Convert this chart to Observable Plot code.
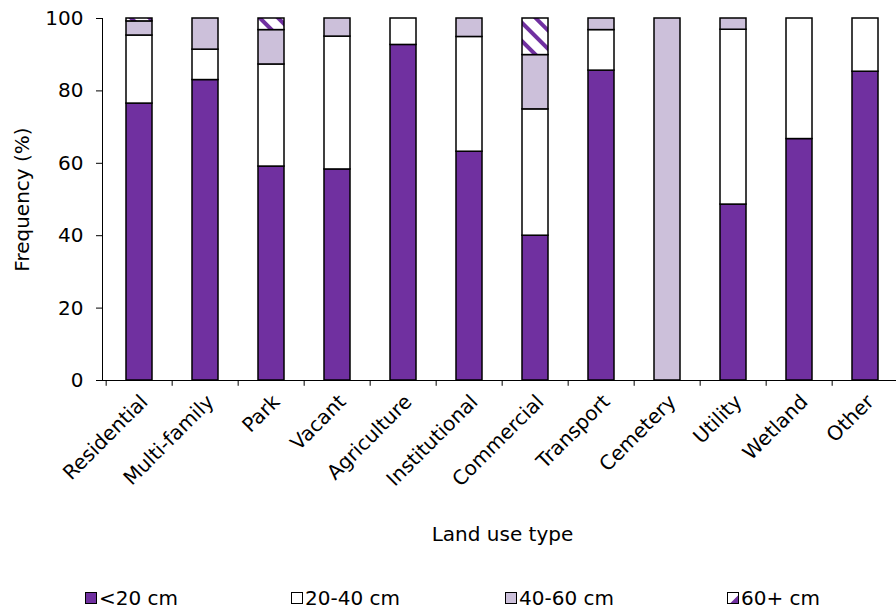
<!DOCTYPE html>
<html>
<head>
<meta charset="utf-8">
<script src="https://cdn.jsdelivr.net/npm/d3@7"></script>
<script src="https://cdn.jsdelivr.net/npm/@observablehq/plot@0.6"></script>
<style>
  html, body { margin: 0; padding: 0; background: #fff; }
  #wrap { position: relative; width: 896px; height: 615px; overflow: hidden; font-family: "DejaVu Sans", Verdana, sans-serif; }
  .leg { position: absolute; top: 585px; height: 26px; font-size: 20px; color: #000; display: flex; align-items: center; white-space: nowrap; }
  .leg svg { margin-right: 2px; }
</style>
</head>
<body>
<div id="wrap"></div>
<script>
const categories = ["Residential", "Multi-family", "Park", "Vacant", "Agriculture", "Institutional", "Commercial", "Transport", "Cemetery", "Utility", "Wetland", "Other"];
const seriesNames = ["<20 cm", "20-40 cm", "40-60 cm", "60+ cm"];
const lt20   = [76.5, 83.0, 59.1, 58.3, 92.7, 63.2, 40.0, 85.6, 0,   48.6, 66.7, 85.3];
const d20_40 = [18.8,  8.4, 28.2, 36.7,  7.3, 31.7, 34.9, 11.2, 0,   48.3, 33.3, 14.7];
const d40_60 = [ 3.9,  8.6,  9.5,  5.0,  0,    5.1, 15.0,  3.2, 100,  3.1,  0,    0];
const d60    = [ 0.8,  0,    3.2,  0,    0,    0,   10.1,  0,   0,    0,    0,    0];
const yTicks = [0, 20, 40, 60, 80, 100];
const fills = ["#7030A0", "#FFFFFF", "#CCC0DA", "url(#hatch60)"];

const seriesValues = [lt20, d20_40, d40_60, d60];
const rows = [];
seriesNames.forEach((s, si) => {
  categories.forEach((c, ci) => {
    const v = seriesValues[si][ci];
    if (v > 0) rows.push({category: c, series: s, value: v});
  });
});

const W = 896, H = 575, ML = 102, MR = -6, MT = 18, MB = 195;
const step = (W - MR - ML) / categories.length;

const chart = Plot.plot({
  width: W, height: H,
  marginTop: MT, marginLeft: ML, marginRight: MR, marginBottom: MB,
  style: {fontFamily: "DejaVu Sans, Verdana, sans-serif", fontSize: "20px", color: "#000", background: "white", overflow: "visible"},
  x: {domain: categories, paddingInner: 0.6, paddingOuter: 0.3, label: null},
  y: {domain: [0, 100], label: null},
  color: {domain: seriesNames, range: fills},
  marks: [
    Plot.barY(rows, {x: "category", y: "value", fill: "series", stroke: "black", strokeWidth: 1.5}),
    Plot.frame({anchor: "left", stroke: "black"}),
    Plot.frame({anchor: "bottom", stroke: "black"}),
    Plot.ruleX(categories, {x: d => d, y1: 0, y2: -1.6, dx: -step / 2, stroke: "black"}),
    Plot.axisY({ticks: yTicks, tickSize: 6, tickPadding: 13, fontSize: 20, label: null}),
    Plot.axisX({tickSize: 0, tickRotate: -45, tickPadding: 18, dx: 5, fontSize: 20, label: null}),
    Plot.text(["Frequency (%)"], {text: d => d, frameAnchor: "left", textAnchor: "middle", lineAnchor: "middle", rotate: -90, dx: -80, fontSize: 20}),
    Plot.text(["Land use type"], {text: d => d, frameAnchor: "bottom", textAnchor: "middle", lineAnchor: "middle", dy: 154, fontSize: 20})
  ]
});

const defs = d3.select(chart).insert("defs", ":first-child");
const pat = defs.append("pattern")
  .attr("id", "hatch60").attr("patternUnits", "userSpaceOnUse")
  .attr("width", 13).attr("height", 13).attr("patternTransform", "rotate(-45)");
pat.append("rect").attr("width", 13).attr("height", 13).attr("fill", "#fff");
pat.append("rect").attr("width", 4).attr("height", 13).attr("fill", "#7030A0");

const wrap = document.getElementById("wrap");
wrap.appendChild(chart);

const legX = [85, 291, 505, 727];
seriesNames.forEach((s, i) => {
  const d = document.createElement("div");
  d.className = "leg";
  d.style.left = legX[i] + "px";
  let sw;
  if (i === 3) {
    sw = `<svg width="12" height="12"><rect x="0.5" y="0.5" width="11" height="11" fill="#fff" stroke="#000"/><path d="M11.5 3 L11.5 11.5 L3 11.5 Z" fill="#7030A0"/><rect x="0.5" y="0.5" width="11" height="11" fill="none" stroke="#000"/></svg>`;
  } else {
    sw = `<svg width="12" height="12"><rect x="0.5" y="0.5" width="11" height="11" fill="${fills[i]}" stroke="#000"/></svg>`;
  }
  d.innerHTML = sw + "<span>" + s.replace("<", "&lt;") + "</span>";
  wrap.appendChild(d);
});
</script>
</body>
</html>
